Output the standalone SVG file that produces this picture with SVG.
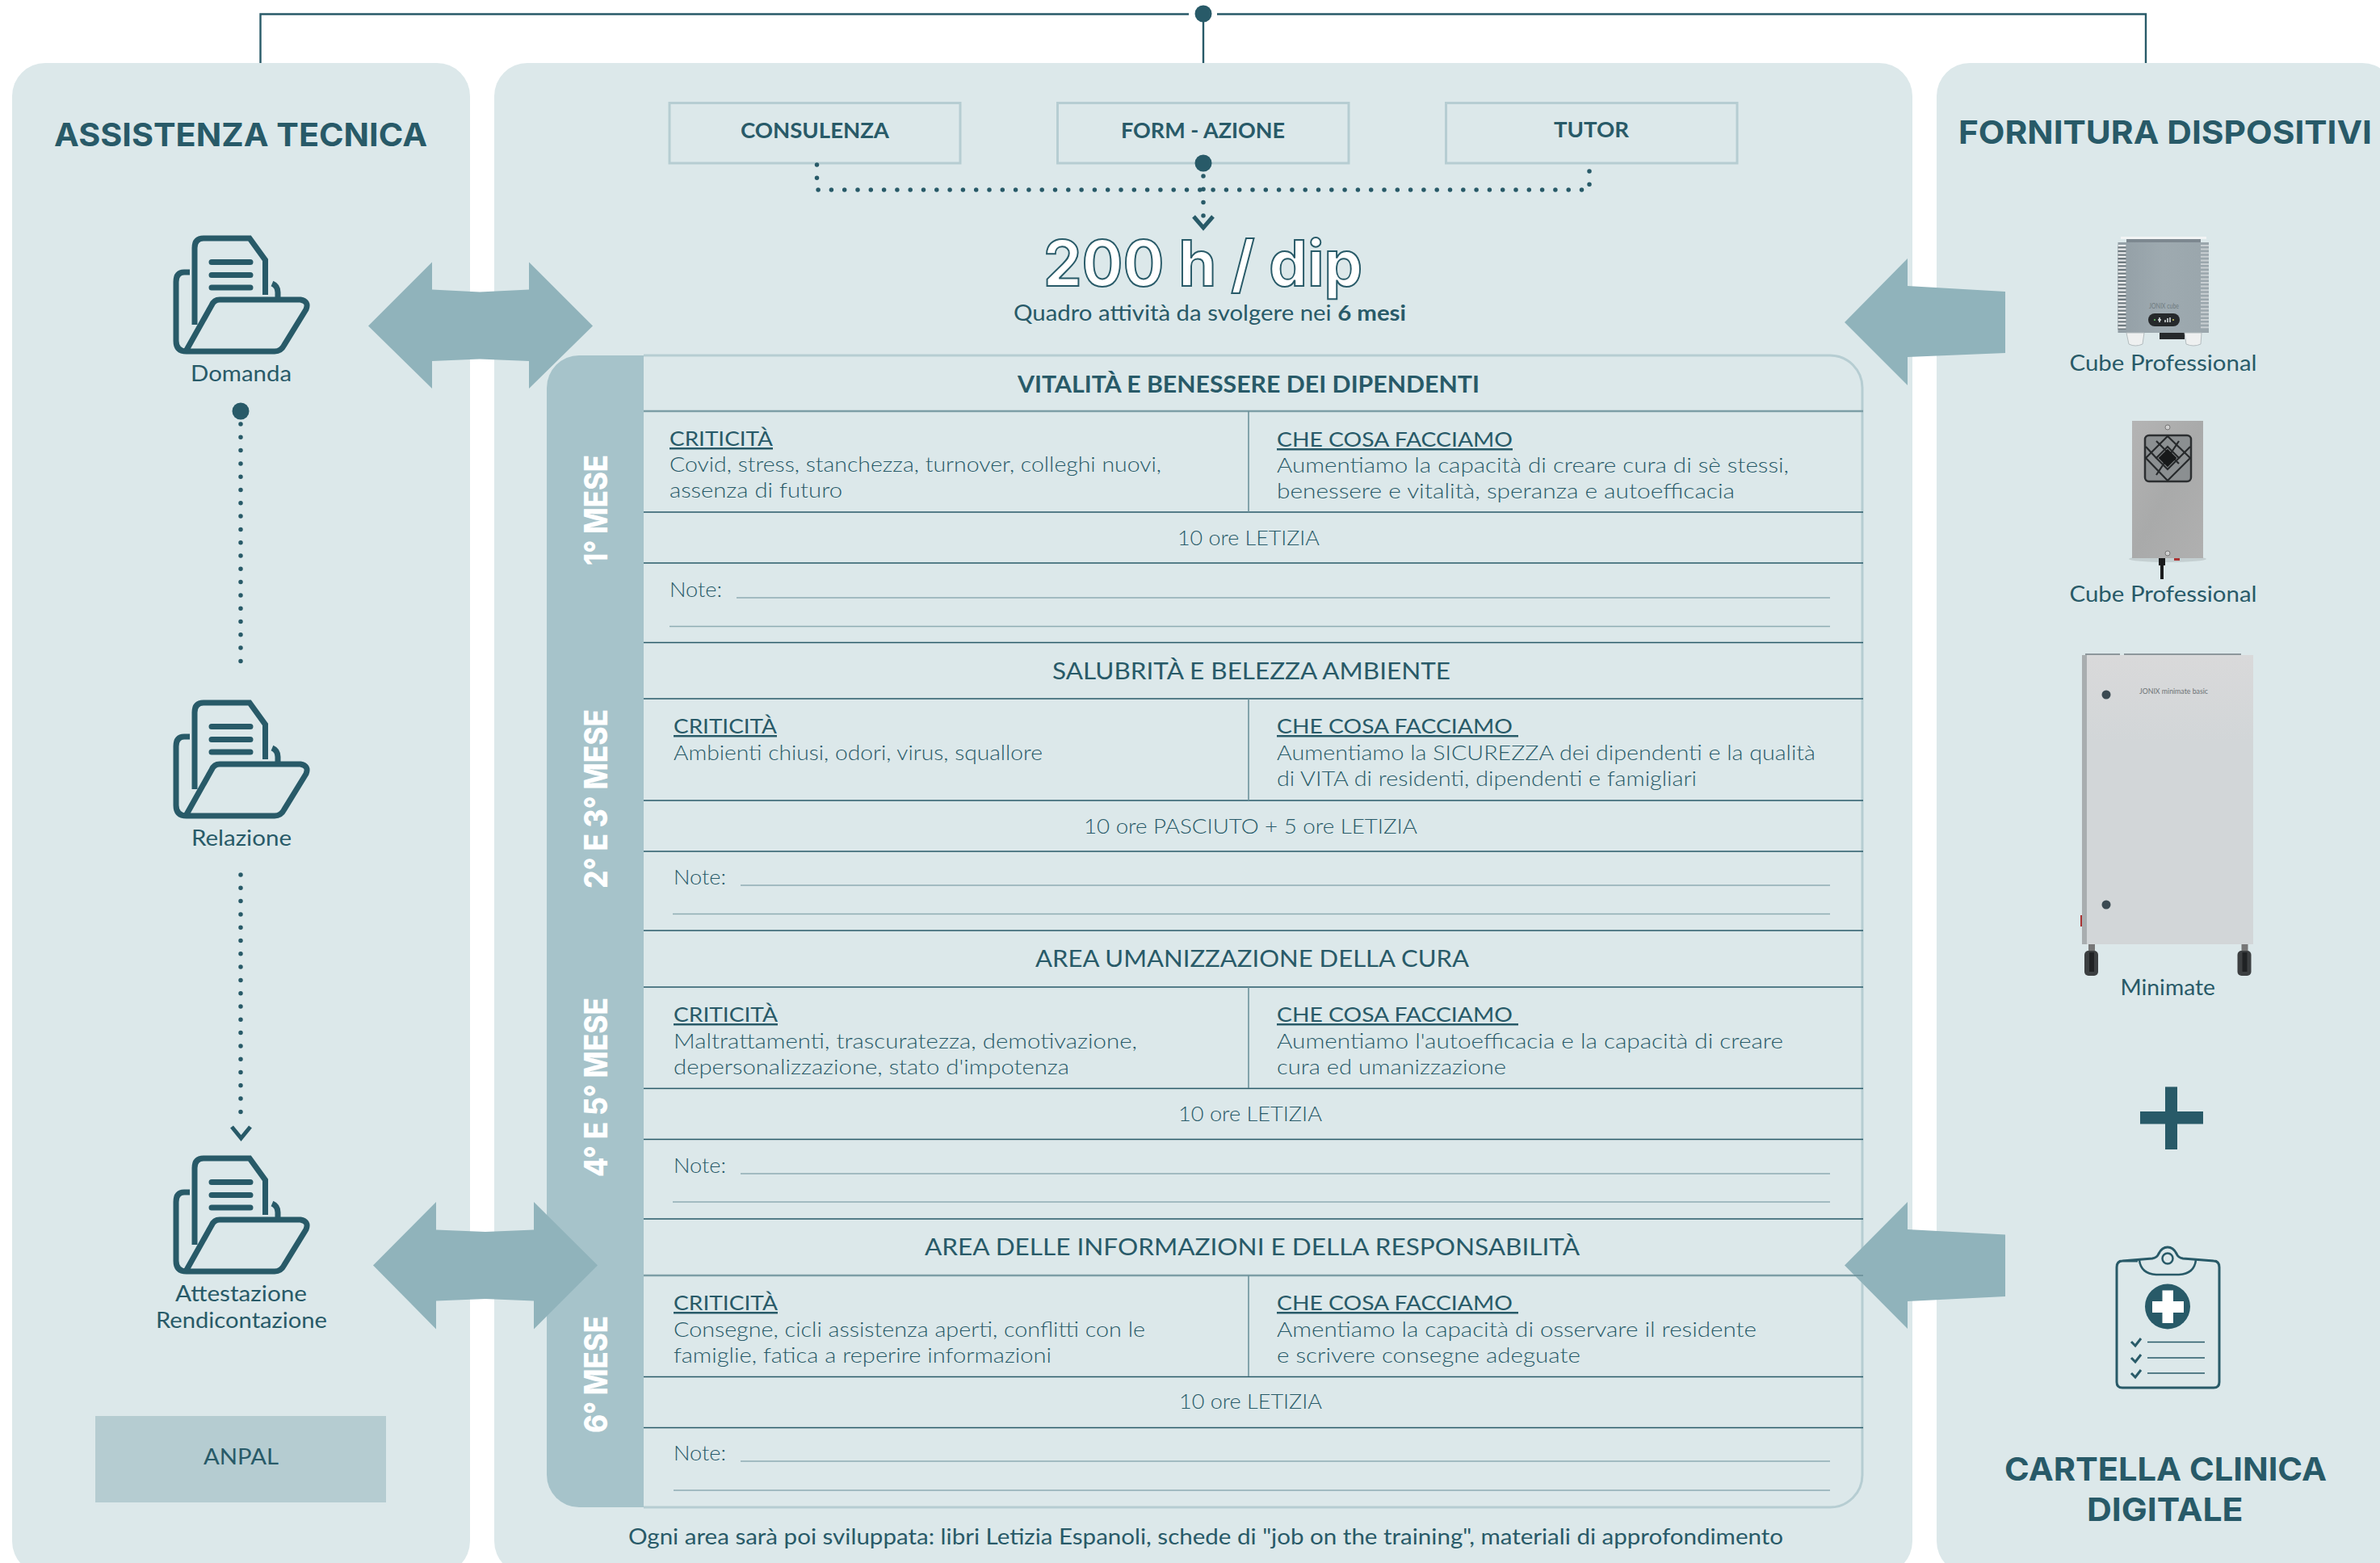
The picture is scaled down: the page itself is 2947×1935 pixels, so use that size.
<svg xmlns="http://www.w3.org/2000/svg" xmlns:xlink="http://www.w3.org/1999/xlink" width="2947" height="1935" viewBox="0 0 2947 1935">
<style>
text{font-family:"Lato","Liberation Sans",sans-serif;fill:#285a68;white-space:pre}
.body{font-size:25px;font-weight:300}
.head{font-size:25px;font-weight:400;text-decoration:underline}
.lab{font-size:26px;font-weight:400}
.title{font-size:28px;font-weight:400}
.box{font-size:26px;font-weight:700}
.big{font-family:"Inter","Liberation Sans",sans-serif;font-size:40px;font-weight:700}
.side{font-family:"Inter","Liberation Sans",sans-serif;font-size:39px;font-weight:800;fill:#fff}
.panel{fill:#dce8ea}
.bx{fill:none;stroke:#b6cdd2;stroke-width:3}
.row{stroke:#285a68;stroke-width:1.6}
.rowh{stroke:#7d9ea6;stroke-width:2.6}
.vd{stroke:#6d929b;stroke-width:1.6}
.nl{stroke:#8fadb3;stroke-width:1.4}
.dots{fill:none;stroke:#285a68;stroke-width:5.5;stroke-linecap:round;stroke-dasharray:0 16.3}
.tl{fill:none;stroke:#285a68;stroke-width:2.4}
.dot{fill:#285a68}
.chev{fill:none;stroke:#285a68;stroke-width:5}
.arr{fill:#90b3bb}
.ic{fill:none;stroke:#285a68;stroke-width:7}
</style>
<defs>
<g id="folder">
<path class="ic" d="M241 402V307Q241 295 252 295H309L328.500 322V365"/>
<path class="ic" stroke-linecap="round" d="M262 324.500H310M262 340.500H310M262 356H310"/>
<path class="ic" d="M235 337H228Q218 337 218 349V422Q218 435 231 435H340Q348 435 352 427L379 383Q383 373 372 371H272Q265 371 262 378L230 435"/>
<path class="ic" d="M337 351Q344 354 344 362V371"/>
</g>
<linearGradient id="steel" x1="0" y1="0" x2="1" y2="1"><stop offset="0" stop-color="#b4b4b4"/><stop offset=".5" stop-color="#a9aaaa"/><stop offset="1" stop-color="#b0b0b0"/></linearGradient>
<linearGradient id="door" x1="0" y1="0" x2="0" y2="1"><stop offset="0" stop-color="#d9d9da"/><stop offset=".3" stop-color="#d2d6d8"/><stop offset="1" stop-color="#d2d6d8"/></linearGradient>
<linearGradient id="cube" x1="0" y1="0" x2="1" y2="0"><stop offset="0" stop-color="#939fa6"/><stop offset=".5" stop-color="#9eaab0"/><stop offset="1" stop-color="#9aa6ac"/></linearGradient>
<g id="wheel"><rect x="5" y="0" width="8" height="8" fill="#777"/><rect x="0" y="8" width="17" height="31" rx="5" fill="#3c3f41"/><rect x="6" y="10" width="6" height="24" fill="#202224"/></g>
</defs>

<g id="panels">
<rect class="panel" x="15" y="78" width="567" height="1871" rx="41"/>
<rect class="panel" x="612" y="78" width="1756" height="1871" rx="41"/>
<rect class="panel" x="2398" y="78" width="568" height="1871" rx="41"/>
</g>

<g id="node-consulenza"><rect class="bx" x="829" y="127.500" width="360" height="74.500"/><text class="box" x="917" y="171" textLength="184" lengthAdjust="spacingAndGlyphs">CONSULENZA</text></g>
<g id="node-form-azione"><rect class="bx" x="1309.500" y="127.500" width="360.500" height="74.500"/><text class="box" x="1388" y="171" textLength="203" lengthAdjust="spacingAndGlyphs">FORM - AZIONE</text></g>
<g id="node-tutor"><rect class="bx" x="1790.500" y="127.500" width="360.500" height="74.500"/><text class="box" x="1924" y="170" textLength="93" lengthAdjust="spacingAndGlyphs">TUTOR</text></g>

<g id="node-hours">
<text x="1292" y="354" font-size="78" textLength="395" lengthAdjust="spacingAndGlyphs" style="font-family:Inter,'Liberation Sans',sans-serif;font-weight:700;fill:#fff;stroke:#285a68;stroke-width:2">200 h / dip</text>
<text x="1255" y="397" font-size="26" font-weight="400" textLength="486" lengthAdjust="spacingAndGlyphs">Quadro attività da svolgere nei <tspan font-weight="700">6 mesi</tspan></text>
</g>

<g id="node-table">
<path fill="#a6c3ca" d="M797 440H717A40 40 0 0 0 677 480V1826A40 40 0 0 0 717 1866H797Z"/>
<path class="bx" d="M797 440H2266A40 40 0 0 1 2306 480V1826A40 40 0 0 1 2266 1866H797"/>
<line class="rowh" x1="797" x2="2307" y1="509" y2="509"/><line class="row" x1="797" x2="2307" y1="634" y2="634"/><line class="row" x1="797" x2="2307" y1="697" y2="697"/><line class="row" x1="797" x2="2307" y1="795.500" y2="795.500"/>
<line class="row" x1="797" x2="2307" y1="865" y2="865"/><line class="row" x1="797" x2="2307" y1="991" y2="991"/><line class="row" x1="797" x2="2307" y1="1054" y2="1054"/><line class="row" x1="797" x2="2307" y1="1152" y2="1152"/>
<line class="row" x1="797" x2="2307" y1="1222" y2="1222"/><line class="row" x1="797" x2="2307" y1="1347.500" y2="1347.500"/><line class="row" x1="797" x2="2307" y1="1410.500" y2="1410.500"/><line class="row" x1="797" x2="2307" y1="1509" y2="1509"/>
<line class="rowh" x1="797" x2="2307" y1="1579" y2="1579"/><line class="row" x1="797" x2="2307" y1="1704.500" y2="1704.500"/><line class="row" x1="797" x2="2307" y1="1767.500" y2="1767.500"/>
<line class="vd" x1="1546" x2="1546" y1="509" y2="634"/><line class="vd" x1="1546" x2="1546" y1="865" y2="991"/><line class="vd" x1="1546" x2="1546" y1="1222" y2="1347"/><line class="vd" x1="1546" x2="1546" y1="1579" y2="1704"/>
<line class="nl" x1="912" x2="2266" y1="740" y2="740"/><line class="nl" x1="829" x2="2266" y1="775.500" y2="775.500"/>
<line class="nl" x1="917" x2="2266" y1="1096" y2="1096"/><line class="nl" x1="833" x2="2266" y1="1131.500" y2="1131.500"/>
<line class="nl" x1="917" x2="2266" y1="1453" y2="1453"/><line class="nl" x1="833" x2="2266" y1="1488" y2="1488"/>
<line class="nl" x1="917" x2="2266" y1="1809" y2="1809"/><line class="nl" x1="834" x2="2266" y1="1845" y2="1845"/>

<text class="side" transform="translate(752 700) rotate(-90)" textLength="137" lengthAdjust="spacingAndGlyphs">1° MESE</text>
<text class="side" transform="translate(752 1100) rotate(-90)" textLength="222" lengthAdjust="spacingAndGlyphs">2° E 3° MESE</text>
<text class="side" transform="translate(752 1457) rotate(-90)" textLength="222" lengthAdjust="spacingAndGlyphs">4° E 5° MESE</text>
<text class="side" transform="translate(752 1774) rotate(-90)" textLength="145" lengthAdjust="spacingAndGlyphs">6° MESE</text>

<text class="title" style="font-weight:700" x="1260" y="486" textLength="572" lengthAdjust="spacingAndGlyphs">VITALITÀ E BENESSERE DEI DIPENDENTI</text>
<text class="head" x="829" y="552" textLength="128" lengthAdjust="spacingAndGlyphs">CRITICITÀ</text>
<text class="body" x="829" y="584" textLength="609" lengthAdjust="spacingAndGlyphs">Covid, stress, stanchezza, turnover, colleghi nuovi,</text>
<text class="body" x="829" y="616" textLength="214" lengthAdjust="spacingAndGlyphs">assenza di futuro</text>
<text class="head" x="1581" y="553" textLength="292" lengthAdjust="spacingAndGlyphs">CHE COSA FACCIAMO</text>
<text class="body" x="1581" y="585" textLength="634" lengthAdjust="spacingAndGlyphs">Aumentiamo la capacità di creare cura di sè stessi,</text>
<text class="body" x="1581" y="617" textLength="567" lengthAdjust="spacingAndGlyphs">benessere e vitalità, speranza e autoefficacia</text>
<text class="body" x="1458" y="675" textLength="176" lengthAdjust="spacingAndGlyphs">10 ore LETIZIA</text>
<text class="body" x="829" y="739" textLength="65" lengthAdjust="spacingAndGlyphs">Note:</text>

<text class="title" x="1303" y="841" textLength="493" lengthAdjust="spacingAndGlyphs">SALUBRITÀ E BELEZZA AMBIENTE</text>
<text class="head" x="834" y="908" textLength="128" lengthAdjust="spacingAndGlyphs">CRITICITÀ</text>
<text class="body" x="834" y="941" textLength="457" lengthAdjust="spacingAndGlyphs">Ambienti chiusi, odori, virus, squallore</text>
<text class="head" x="1581" y="908" textLength="299" lengthAdjust="spacingAndGlyphs">CHE COSA FACCIAMO </text>
<text class="body" x="1581" y="941" textLength="667" lengthAdjust="spacingAndGlyphs">Aumentiamo la SICUREZZA dei dipendenti e la qualità</text>
<text class="body" x="1581" y="973" textLength="520" lengthAdjust="spacingAndGlyphs">di VITA di residenti, dipendenti e famigliari</text>
<text class="body" x="1342" y="1032" textLength="413" lengthAdjust="spacingAndGlyphs">10 ore PASCIUTO + 5 ore LETIZIA</text>
<text class="body" x="834" y="1095" textLength="65" lengthAdjust="spacingAndGlyphs">Note:</text>

<text class="title" x="1282" y="1197" textLength="537" lengthAdjust="spacingAndGlyphs">AREA UMANIZZAZIONE DELLA CURA</text>
<text class="head" x="834" y="1265" textLength="129" lengthAdjust="spacingAndGlyphs">CRITICITÀ</text>
<text class="body" x="834" y="1298" textLength="574" lengthAdjust="spacingAndGlyphs">Maltrattamenti, trascuratezza, demotivazione,</text>
<text class="body" x="834" y="1330" textLength="490" lengthAdjust="spacingAndGlyphs">depersonalizzazione, stato d'impotenza</text>
<text class="head" x="1581" y="1265" textLength="299" lengthAdjust="spacingAndGlyphs">CHE COSA FACCIAMO </text>
<text class="body" x="1581" y="1298" textLength="627" lengthAdjust="spacingAndGlyphs">Aumentiamo l'autoefficacia e la capacità di creare</text>
<text class="body" x="1581" y="1330" textLength="284" lengthAdjust="spacingAndGlyphs">cura ed umanizzazione</text>
<text class="body" x="1459" y="1388" textLength="178" lengthAdjust="spacingAndGlyphs">10 ore LETIZIA</text>
<text class="body" x="834" y="1452" textLength="65" lengthAdjust="spacingAndGlyphs">Note:</text>

<text class="title" x="1145" y="1554" textLength="811" lengthAdjust="spacingAndGlyphs">AREA DELLE INFORMAZIONI E DELLA RESPONSABILITÀ</text>
<text class="head" x="834" y="1622" textLength="129" lengthAdjust="spacingAndGlyphs">CRITICITÀ</text>
<text class="body" x="834" y="1655" textLength="584" lengthAdjust="spacingAndGlyphs">Consegne, cicli assistenza aperti, conflitti con le</text>
<text class="body" x="834" y="1687" textLength="468" lengthAdjust="spacingAndGlyphs">famiglie, fatica a reperire informazioni</text>
<text class="head" x="1581" y="1622" textLength="299" lengthAdjust="spacingAndGlyphs">CHE COSA FACCIAMO </text>
<text class="body" x="1581" y="1655" textLength="594" lengthAdjust="spacingAndGlyphs">Amentiamo la capacità di osservare il residente</text>
<text class="body" x="1581" y="1687" textLength="376" lengthAdjust="spacingAndGlyphs">e scrivere consegne adeguate</text>
<text class="body" x="1460" y="1744" textLength="177" lengthAdjust="spacingAndGlyphs">10 ore LETIZIA</text>
<text class="body" x="834" y="1808" textLength="65" lengthAdjust="spacingAndGlyphs">Note:</text>
</g>
<text id="node-footer" x="778" y="1912" font-size="26" textLength="1430" lengthAdjust="spacingAndGlyphs">Ogni area sarà poi sviluppata: libri Letizia Espanoli, schede di "job on the training", materiali di approfondimento</text>

<g id="node-assistenza-title"><text class="big" x="67" y="181" textLength="462" lengthAdjust="spacingAndGlyphs">ASSISTENZA TECNICA</text></g>
<g id="node-domanda"><use href="#folder"/><text class="lab" x="236" y="472" textLength="125" lengthAdjust="spacingAndGlyphs">Domanda</text></g>
<g id="node-relazione"><use href="#folder" y="575"/><text class="lab" x="237" y="1047" textLength="124" lengthAdjust="spacingAndGlyphs">Relazione</text></g>
<g id="node-attestazione"><use href="#folder" y="1139"/><text class="lab" x="217" y="1611" textLength="163" lengthAdjust="spacingAndGlyphs">Attestazione</text><text class="lab" x="193" y="1644" textLength="212" lengthAdjust="spacingAndGlyphs">Rendicontazione</text></g>
<g id="node-anpal"><rect x="118" y="1753" width="360" height="107" fill="#b5ccd1"/><text class="lab" x="252" y="1813" textLength="93" lengthAdjust="spacingAndGlyphs">ANPAL</text></g>

<g id="arrows">
<path class="arr" d="M456 403.500L535 324.500V358.500L594 361.500L655 358.500V324.500L734 403.500L655 481V447L594 444.500L535 447V481Z"/>
<path class="arr" d="M462 1566.500L540 1488V1522.500L601 1525L661 1522.500V1488L740 1566.500L661 1645.500V1610.500L601 1608L540 1610.500V1645.500Z"/>
<path class="arr" d="M2284 399L2362 320V354L2483 361V437L2362 442V477Z"/>
<path class="arr" d="M2284 1566.500L2362 1488V1522L2483 1528.500V1605L2362 1611V1645Z"/>
<line x1="2296" x2="2307" y1="1579" y2="1579" stroke="#6a8f99" stroke-width="1.600"/>
</g>

<g id="connectors">
<path class="tl" d="M1472 17.500H322.500V78"/>
<path class="tl" d="M1507 17.500H2657V78"/>
<path class="tl" stroke-width="1.600" d="M1490 17V78"/>
<path class="dots" d="M1011.500 204V235H1968V204"/>
<path class="dots" d="M1490 218V272"/>
<path class="chev" d="M1478 268L1490 282L1502 268"/>
<path class="dots" d="M298 525V829"/>
<path class="dots" d="M298 1083V1390"/>
<path class="chev" d="M287 1395L298.500 1409L310 1395"/>
<circle class="dot" cx="1490" cy="17" r="10.500"/>
<circle class="dot" cx="1490" cy="202" r="10.500"/>
<circle class="dot" cx="298" cy="509" r="10.500"/>
</g>

<g id="node-fornitura-title"><text class="big" x="2425" y="177.500" textLength="512" lengthAdjust="spacingAndGlyphs">FORNITURA DISPOSITIVI</text></g>

<g id="node-cube-1">
<rect x="2626" y="293" width="106" height="3" fill="#f2f4f5"/>
<rect x="2622.500" y="300" width="112.500" height="112" fill="url(#cube)"/>
<rect x="2633" y="296" width="92" height="4" fill="#7d8890"/>
<rect x="2622.500" y="303" width="10" height="105" fill="#6f7a80"/>
<line x1="2627.500" x2="2627.500" y1="303" y2="408" stroke="#eceeef" stroke-width="10" stroke-dasharray="2.200 2.400"/>
<line x1="2730" x2="2730" y1="303" y2="408" stroke="#c9cfd2" stroke-width="10" stroke-dasharray="2 2.600"/>
<rect x="2674" y="412" width="31" height="8" fill="#26292b"/>
<path d="M2633 412H2655L2653 426Q2644 430 2636 426Z" fill="#eef0f0" stroke="#b3bcbf"/>
<path d="M2705 412H2726L2725 426Q2716 430 2707 426Z" fill="#eef0f0" stroke="#b3bcbf"/>
<text x="2661" y="382" font-size="9" textLength="37" lengthAdjust="spacingAndGlyphs" style="fill:#6e7a80">JONIX cube</text>
<rect x="2660" y="388" width="39" height="16" rx="8" fill="#26292b"/>
<path d="M2672 396h4M2674 393v6M2681 399v-3M2684 399v-5M2687 399v-6" stroke="#dfe5e6" stroke-width="1.500"/>
<circle cx="2668" cy="396" r="1" fill="#6fd06f"/><circle cx="2691" cy="396" r="1" fill="#d8d060"/>
<text class="lab" x="2562.500" y="459" style="font-size:27px" textLength="232" lengthAdjust="spacingAndGlyphs">Cube Professional</text>
</g>

<g id="node-cube-2">
<ellipse cx="2684" cy="692" rx="48" ry="4" fill="#b9c4c6" opacity=".7"/>
<rect x="2640" y="521" width="88" height="170" fill="url(#steel)"/>
<circle cx="2684" cy="529" r="3" fill="#d0d0d0" stroke="#777"/><circle cx="2684" cy="685" r="3" fill="#d0d0d0" stroke="#777"/>
<rect x="2656" y="539" width="57" height="57" rx="5" fill="#8b8f91" stroke="#2c2f31" stroke-width="2.500"/>
<g fill="none" stroke="#26292b" stroke-width="2.200"><path d="M2684 540L2712 567L2684 595L2657 567Z"/><path d="M2684 553L2698 567L2684 581L2670 567Z"/><path d="M2670 546L2698 574M2698 546L2670 588M2657 553L2670 567M2712 553L2698 567"/></g>
<rect x="2676" y="559" width="16" height="16" transform="rotate(45 2684 567)" fill="#17191a"/>
<path d="M2677 692V717" stroke="#1b1c1d" stroke-width="4"/><rect x="2673" y="691" width="8" height="9" fill="#1b1c1d"/>
<rect x="2692" y="691" width="7" height="3" fill="#a33"/>
<text class="lab" x="2562.500" y="745" style="font-size:27px" textLength="232" lengthAdjust="spacingAndGlyphs">Cube Professional</text>
</g>

<g id="node-minimate">
<rect x="2582" y="809" width="43" height="3" fill="#8d979c"/><rect x="2630" y="809" width="145" height="3" fill="#8d979c"/>
<rect x="2576" y="1133" width="3" height="14" fill="#a33"/>
<rect x="2578" y="811" width="212" height="358" fill="url(#door)"/>
<rect x="2578" y="811" width="6" height="358" fill="#a9aeb0"/>
<circle cx="2608" cy="860" r="5.500" fill="#3b4a52"/><circle cx="2608" cy="1120" r="5.500" fill="#3b4a52"/>
<text x="2649" y="859" font-size="10" textLength="85" lengthAdjust="spacingAndGlyphs" style="fill:#6c7275">JONIX minimate basic</text>
<use href="#wheel" x="2581" y="1169"/><use href="#wheel" x="2770.500" y="1169"/>
<text class="lab" x="2625.500" y="1232" textLength="117.500" lengthAdjust="spacingAndGlyphs">Minimate</text>
</g>

<g id="node-plus"><rect x="2681" y="1345.500" width="15" height="77.500" fill="#285a68"/><rect x="2650" y="1376" width="78" height="15.500" fill="#285a68"/></g>

<g id="node-cartella">
<path fill="none" stroke="#285a68" stroke-width="3" d="M2647 1561H2628Q2621 1561 2621 1569V1711Q2621 1718 2628 1718H2741Q2748 1718 2748 1711V1569Q2748 1561 2741 1561L2703 1558Q2697 1557 2695 1552Q2691 1544 2684 1544Q2677 1544 2673 1552Q2671 1557 2665 1558L2628 1561"/>
<path fill="none" stroke="#285a68" stroke-width="2.500" d="M2649 1560Q2651 1577 2670 1578H2698Q2717 1577 2719 1560"/>
<circle cx="2684" cy="1558" r="6.500" fill="none" stroke="#285a68" stroke-width="2.500"/>
<circle cx="2684" cy="1617.500" r="28" fill="#285a68"/>
<path fill="#fff" d="M2677.500 1597.500H2691V1611H2704V1625H2691V1638H2677.500V1625H2665V1611H2677.500Z"/>
<path fill="none" stroke="#285a68" stroke-width="3" d="M2639 1661L2644 1666L2651 1657M2639 1681L2644 1686L2651 1677M2639 1700L2644 1705L2651 1696"/>
<path fill="none" stroke="#285a68" stroke-width="1.600" d="M2659 1661.500H2730M2659 1681H2730M2659 1700H2730"/>
<text class="big" x="2482" y="1832.500" textLength="399" lengthAdjust="spacingAndGlyphs">CARTELLA CLINICA</text>
<text class="big" x="2584" y="1883" textLength="193.500" lengthAdjust="spacingAndGlyphs">DIGITALE</text>
</g>
</svg>
